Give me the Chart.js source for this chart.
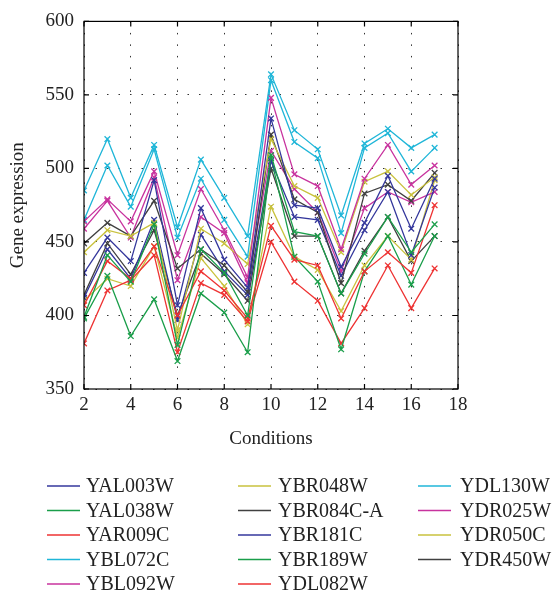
<!DOCTYPE html>
<html>
<head>
<meta charset="utf-8">
<script src="https://cdn.jsdelivr.net/npm/chart.js@4/dist/chart.umd.min.js"></script>
<style>
  html, body { margin: 0; padding: 0; background: #fff; }
  #wrap { width: 552px; height: 594px; }
</style>
</head>
<body>
<div id="wrap"><canvas id="chart" width="552" height="594"></canvas></div>
<script>
const conditions = [2, 3, 4, 5, 6, 7, 8, 9, 10, 11, 12, 13, 14, 15, 16, 17];
const xTicks = [2, 4, 6, 8, 10, 12, 14, 16, 18];
const yTicks = [350, 400, 450, 500, 550, 600];

const genes = ["YAL003W", "YAL038W", "YAR009C", "YBL072C", "YBL092W",
  "YBR048W", "YBR084C-A", "YBR181C", "YBR189W", "YDL082W",
  "YDL130W", "YDR025W", "YDR050C", "YDR450W"];

const YAL003W   = [429, 453, 437, 492, 407, 473, 438, 419, 534, 475, 473, 433, 463, 495, 459, 493];
const YAL038W   = [399, 441, 423, 462, 380, 445, 429, 400, 509, 457, 454, 415, 442, 467, 443, 462];
const YAR009C   = [407, 437, 425, 447, 400, 430, 417, 398, 461, 438, 434, 398, 430, 443, 429, 475];
const YBL072C   = [485, 520, 480, 516, 460, 506, 480, 454, 564, 526, 513, 468, 517, 527, 514, 523];
const YBL092W   = [464, 479, 464, 498, 441, 486, 458, 426, 548, 496, 488, 445, 493, 516, 489, 502];
const YBR048W   = [443, 458, 454, 463, 390, 459, 449, 435, 520, 488, 480, 443, 491, 498, 482, 494];
const YBR084C_A = [449, 463, 454, 478, 432, 445, 434, 416, 523, 479, 470, 422, 483, 489, 478, 497];
const YBR181C   = [412, 445, 425, 465, 397, 455, 430, 414, 505, 467, 465, 427, 458, 484, 441, 487];
const YBR189W   = [398, 427, 386, 411, 369, 415, 402, 375, 507, 440, 423, 377, 430, 454, 421, 454];
const YDL082W   = [381, 417, 424, 441, 375, 422, 414, 396, 450, 423, 410, 381, 405, 434, 405, 432];
const YDL130W   = [465, 502, 474, 513, 453, 493, 465, 440, 560, 518, 507, 456, 514, 524, 498, 514];
const YDR025W   = [459, 478, 453, 494, 424, 467, 456, 422, 512, 486, 470, 430, 473, 484, 477, 484];
const YDR050C   = [410, 425, 420, 447, 385, 439, 420, 394, 474, 440, 431, 403, 434, 454, 438, 492];
const YDR450W   = [414, 449, 428, 458, 400, 442, 428, 410, 500, 454, 454, 415, 444, 467, 437, 454];

const seriesValues = [YAL003W, YAL038W, YAR009C, YBL072C, YBL092W,
  YBR048W, YBR084C_A, YBR181C, YBR189W, YDL082W,
  YDL130W, YDR025W, YDR050C, YDR450W];

// matlab-ish colour cycle
const palette = ["#34379c", "#1a9e4a", "#ee3333", "#20b6d8", "#c8339e", "#c9c23e", "#404040"];

const FONT = "'Liberation Serif', 'DejaVu Serif', serif";

const datasets = genes.map((g, i) => ({
  label: g,
  data: conditions.map((c, j) => ({ x: c, y: seriesValues[i][j] })),
  borderColor: palette[i % 7],
  backgroundColor: palette[i % 7],
  borderWidth: 1.3,
  pointStyle: "crossRot",
  pointRadius: 4,
  pointBorderWidth: 1.3,
  tension: 0,
  fill: false
}));

// box + inward ticks + legend in three columns
const framePlugin = {
  id: "frame",
  afterDraw(chart) {
    const ctx = chart.ctx;
    const a = chart.chartArea;
    const xs = chart.scales.x, ys = chart.scales.y;
    ctx.save();
    ctx.strokeStyle = "#000";
    ctx.lineWidth = 1.2;
    ctx.strokeRect(a.left, a.top, a.right - a.left, a.bottom - a.top);
    ctx.beginPath();
    xTicks.forEach(t => {
      const px = xs.getPixelForValue(t);
      ctx.moveTo(px, a.bottom); ctx.lineTo(px, a.bottom - 5);
      ctx.moveTo(px, a.top); ctx.lineTo(px, a.top + 5);
    });
    yTicks.forEach(t => {
      const py = ys.getPixelForValue(t);
      ctx.moveTo(a.left, py); ctx.lineTo(a.left + 5, py);
      ctx.moveTo(a.right, py); ctx.lineTo(a.right - 5, py);
    });
    ctx.stroke();

    const colLine = [47, 238, 418];
    const colText = [86, 278, 460];
    ctx.font = "20px " + FONT;
    ctx.textBaseline = "middle";
    ctx.fillStyle = "#222";
    chart.data.datasets.forEach((ds, i) => {
      const col = Math.floor(i / 5), row = i % 5;
      const y = 486 + row * 24.5;
      ctx.strokeStyle = ds.borderColor;
      ctx.lineWidth = 1.5;
      ctx.beginPath();
      ctx.moveTo(colLine[col], y);
      ctx.lineTo(colLine[col] + 33, y);
      ctx.stroke();
      ctx.fillText(ds.label, colText[col], y + 1);
    });
    ctx.restore();
  }
};

new Chart(document.getElementById("chart"), {
  type: "line",
  data: { datasets },
  options: {
    responsive: false,
    animation: false,
    layout: { padding: { left: 0, top: 12, right: 94, bottom: 144 } },
    plugins: { legend: { display: false }, tooltip: { enabled: false } },
    scales: {
      x: {
        type: "linear", min: 2, max: 18,
        afterBuildTicks: s => { s.ticks = xTicks.map(v => ({ value: v })); },
        afterFit: s => { s.height = 61; },
        grid: { color: "#333", drawTicks: false, lineWidth: 1 },
        border: { display: false, dash: [1.5, 10] },
        ticks: { color: "#222", padding: 5, font: { family: FONT, size: 19 } },
        title: { display: true, text: "Conditions", color: "#222", padding: { top: 0, bottom: 0 }, font: { family: FONT, size: 19 } }
      },
      y: {
        min: 350, max: 600,
        afterBuildTicks: s => { s.ticks = yTicks.map(v => ({ value: v })); },
        afterFit: s => { s.width = 84; },
        grid: { color: "#333", drawTicks: false, lineWidth: 1 },
        border: { display: false, dash: [1.5, 10] },
        ticks: { color: "#222", padding: 10, font: { family: FONT, size: 19 } },
        title: { display: true, text: "Gene expression", color: "#222", padding: { top: 7, bottom: 0 }, font: { family: FONT, size: 19 } }
      }
    }
  },
  plugins: [framePlugin]
});
</script>
</body>
</html>
